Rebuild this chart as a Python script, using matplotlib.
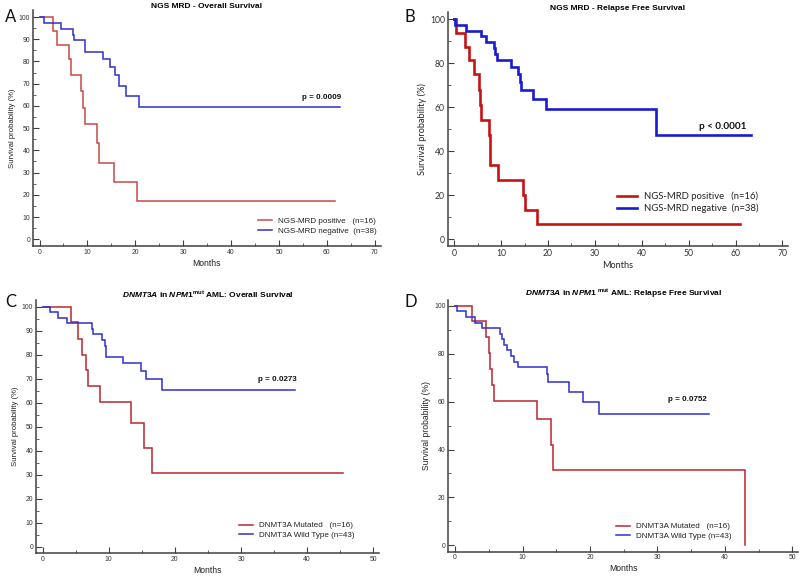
import matplotlib
matplotlib.use('Agg')
import matplotlib.pyplot as plt
from matplotlib.ticker import MultipleLocator

plt.rcParams['font.family'] = ['Liberation Sans', 'DejaVu Sans']
plt.rcParams['mathtext.fontset'] = 'custom'
plt.rcParams['mathtext.it'] = 'Liberation Sans:bold:italic'
plt.rcParams['mathtext.rm'] = 'Liberation Sans:bold'

# A - NGS MRD overall survival
a_pos_t = [0, 2.8, 3.7, 6.1, 6.5, 8.7, 9.0, 9.5, 12.0, 12.4, 15.5, 20.3, 61.8]
a_pos_s = [100, 93.8, 87.5, 81.3, 74.0, 66.7, 59.2, 51.8, 43.2, 34.5, 25.9, 17.3, 17.3]
a_neg_t = [0, 0.9, 4.4, 7.0, 7.3, 9.5, 13.2, 14.8, 15.7, 16.5, 18.0, 20.7, 62.8]
a_neg_s = [100, 97.4, 94.7, 92.1, 89.5, 84.2, 81.0, 77.4, 73.7, 68.9, 64.3, 59.6, 59.6]

# B - NGS MRD relapse free survival
b_pos_t = [0, 0.35, 2.2, 3.2, 4.2, 5.2, 5.6, 5.75, 7.4, 7.7, 9.4, 14.6, 15.1, 17.7, 61.0]
b_pos_s = [100, 93.8, 87.5, 81.3, 75.0, 67.9, 61.0, 54.3, 47.5, 33.9, 27.1, 20.3, 13.5, 6.8, 6.8]
b_neg_t = [0, 0.25, 2.6, 5.8, 6.7, 8.4, 8.8, 9.2, 12.2, 13.7, 14.0, 14.2, 16.8, 19.5, 43.0, 63.3]
b_neg_s = [100, 97.4, 94.7, 92.1, 89.5, 86.8, 84.2, 81.3, 78.4, 75.0, 71.5, 68.0, 63.6, 59.0, 47.2, 47.2]

# C - DNMT3A overall survival
c_mut_t = [0, 4.35, 5.3, 5.9, 6.5, 6.9, 8.75, 13.3, 15.4, 16.6, 45.5]
c_mut_s = [100, 93.75, 86.7, 80.0, 73.5, 66.8, 60.1, 51.5, 41.2, 30.9, 30.9]
c_wt_t = [0, 1.06, 2.35, 3.65, 7.45, 7.6, 9.05, 9.4, 9.6, 12.1, 14.95, 15.65, 18.0, 38.2]
c_wt_s = [100, 97.7, 95.3, 93.0, 90.7, 88.4, 86.0, 83.7, 79.1, 76.5, 73.1, 69.7, 65.3, 65.3]

# D - DNMT3A relapse free survival
d_mut_t = [0, 2.45, 4.6, 5.0, 5.25, 5.55, 5.7, 12.1, 14.3, 14.5, 43.0]
d_mut_s = [100, 93.75, 87.1, 80.4, 73.6, 67.0, 60.3, 52.8, 42.0, 31.5, 0]
d_wt_t = [0, 0.3, 1.6, 3.0, 4.0, 6.6, 6.9, 7.25, 7.7, 8.35, 8.7, 9.3, 13.6, 13.8, 16.9, 19.0, 21.3, 37.6]
d_wt_s = [100, 97.7, 95.3, 93.0, 90.7, 88.4, 86.0, 83.7, 81.4, 79.1, 76.7, 74.4, 71.6, 68.2, 64.0, 59.7, 55.0, 55.0]

fig = plt.figure(figsize=(8, 5.76), dpi=100)


def panel(rect, xmax, ylim, ystep, curves, labels, title, pval, pxy, leg_anchor,
          font='Liberation Sans', fs=4.9, lw=1.1, ylab_fs=5.6, xlab_fs=6.2, leg_fs=5.8,
          p_fs=5.8, hlen=1.8, tpad=1.5):
    ax = fig.add_axes(rect)
    for (t, s, c) in curves:
        ax.step(t, s, where='post', color=c, lw=lw, solid_joinstyle='miter')
    ax.set_xlim(-xmax * 0.02, xmax + xmax * 0.018)
    ax.set_ylim(*ylim)
    ax.xaxis.set_major_locator(MultipleLocator(10))
    ax.xaxis.set_minor_locator(MultipleLocator(5))
    ax.yaxis.set_major_locator(MultipleLocator(ystep))
    ax.yaxis.set_minor_locator(MultipleLocator(ystep / 2))
    for sp in ['top', 'right']:
        ax.spines[sp].set_visible(False)
    for sp in ['left', 'bottom']:
        ax.spines[sp].set_color('#404040')
        ax.spines[sp].set_linewidth(1.1)
    ax.tick_params(which='major', direction='in', length=4, width=0.8, color='#404040',
                   labelsize=fs, labelcolor='#333333', pad=2)
    ax.tick_params(which='minor', direction='in', length=2.2, width=0.7, color='#606060')
    for lab in ax.get_xticklabels() + ax.get_yticklabels():
        lab.set_family(font)
    ax.set_xlabel('Months', fontsize=xlab_fs, family=font, color='#222222', labelpad=2)
    ax.set_ylabel('Survival probability (%)', fontsize=ylab_fs, family=font, color='#222222', labelpad=2)
    ax.set_title(title, fontsize=6, fontweight='bold', pad=tpad)
    ax.text(pxy[0], pxy[1], pval, ha='right', va='center', fontsize=p_fs, fontweight='bold',
            family=font, color='#111111')
    handles = ax.get_lines()
    leg = ax.legend(handles, labels, loc='lower right', bbox_to_anchor=leg_anchor, frameon=False,
                    handlelength=hlen, handletextpad=0.7, labelspacing=0.25,
                    borderpad=0, prop={'family': font, 'size': leg_fs})
    for txt in leg.get_texts():
        txt.set_color('#222222')
    return ax


red_a = '#c84a46'
red_b = '#c41414'
red_c = '#b8282c'
blue = '#2f2fcf'
blue_b = '#1a1ad0'

panel([0.041, 0.573, 0.435, 0.409], 70, (-3, 103), 10,
      [(a_pos_t, a_pos_s, red_a), (a_neg_t, a_neg_s, blue)],
      ['NGS-MRD positive   (n=16)', 'NGS-MRD negative  (n=38)'],
      'NGS MRD - Overall Survival', 'p = 0.0009', (63, 64), (1.0, 0.03), tpad=0.5)

panel([0.5596, 0.573, 0.4258, 0.407], 70, (-3, 103.4), 20,
      [(b_pos_t, b_pos_s, red_b), (b_neg_t, b_neg_s, blue_b)],
      ['NGS-MRD positive   (n=16)', 'NGS-MRD negative  (n=38)'],
      'NGS MRD - Relapse Free Survival', 'p < 0.0001', (62.3, 51.4), (0.925, 0.12),
      font='Lato', fs=6.2, lw=1.9, ylab_fs=6.6, xlab_fs=6.6, leg_fs=6.8, p_fs=7.2, hlen=2.1,
      tpad=0.5)

panel([0.045, 0.0394, 0.429, 0.44], 50, (-2.75, 102.8), 10,
      [(c_mut_t, c_mut_s, red_c), (c_wt_t, c_wt_s, blue)],
      ['DNMT3A Mutated   (n=16)', 'DNMT3A Wild Type (n=43)'],
      r'$DNMT3A$ in $NPM1^{\rm mut}$ AML: Overall Survival', 'p = 0.0273', (38.4, 69.5), (0.94, 0.04))

panel([0.5604, 0.0422, 0.4375, 0.437], 50, (-2.7, 102.5), 20,
      [(d_mut_t, d_mut_s, red_c), (d_wt_t, d_wt_s, blue)],
      ['DNMT3A Mutated   (n=16)', 'DNMT3A Wild Type (n=43)'],
      r'$DNMT3A$ in $NPM1^{\ \rm mut}$ AML: Relapse Free Survival', 'p = 0.0752', (37.3, 60.7), (0.82, 0.03),
      ylab_fs=6.2)

for lbl, x, y in [('A', 0.006, 0.985), ('B', 0.506, 0.985), ('C', 0.006, 0.49), ('D', 0.506, 0.49)]:
    fig.text(x, y, lbl, fontsize=12, family='Lato', va='top', ha='left', color='#111111')

fig.savefig('out.png', dpi=100)
